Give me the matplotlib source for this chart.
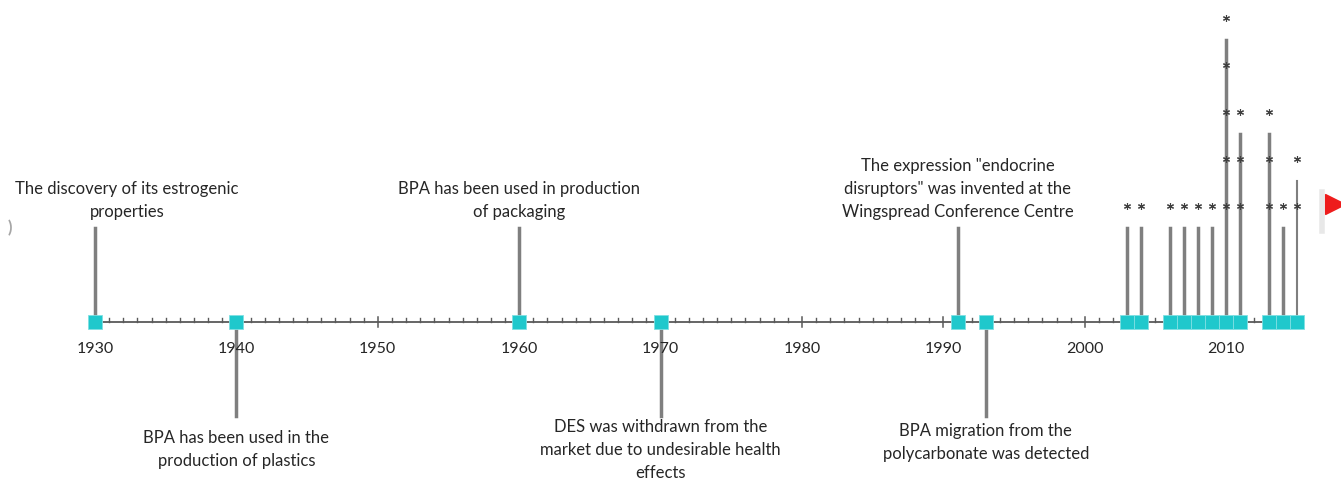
import numpy as np
import matplotlib.pyplot as plt

# milestones with text labels
event_years = [1930, 1940, 1960, 1970, 1991, 1993]
event_side = [1, -1, 1, -1, 1, -1]
event_labels = [
    'The discovery of its estrogenic\nproperties',
    'BPA has been used in the\nproduction of plastics',
    'BPA has been used in production\nof packaging',
    'DES was withdrawn from the\nmarket due to undesirable health\neffects',
    'The expression "endocrine\ndisruptors" was invented at the\nWingspread Conference Centre',
    'BPA migration from the\npolycarbonate was detected',
]
label_x = [1932.25, 1940, 1960, 1970, 1991, 1993]
label_gap = [9, 13, 9, 2, 9, 6]   # px between stem end and label

# years with publications (one asterisk each)
pub_years = [2003, 2004, 2006, 2007, 2008, 2009, 2010, 2011, 2013, 2014, 2015]
pub_counts = [1, 1, 1, 1, 1, 1, 5, 3, 3, 1, 2]

tick_years = list(range(1930, 2011, 10))

teal = '#1fc8cc'
stem_c = '#7f7f7f'
txt_c = '#262626'

plt.rcParams['font.family'] = ['Lato', 'DejaVu Sans']

fig = plt.figure(figsize=(13.41, 4.81), dpi=100)
ax = fig.add_axes([0, 0, 1, 1])
ax.set_xlim(1923.28, 2018.12)
ax.set_ylim(-3.36, 6.87)
ax.axis('off')

# px per data unit
px_y = 481 / (6.87 + 3.36)

# main axis line and ticks
ax.plot([1930, 2015], [0, 0], color='#595959', lw=1.3, zorder=1)
for yr in range(1931, 2016):
    if yr % 10 == 0:
        ax.plot([yr, yr], [-5 / px_y, 5 / px_y], color='#595959', lw=1.1, zorder=1)
    else:
        ax.plot([yr, yr], [0, 4 / px_y], color='#595959', lw=1.0, zorder=1)
for yr in tick_years:
    ax.text(yr, -26 / px_y, str(yr), ha='center', va='center', fontsize=11.5, color=txt_c)

# event stems and labels
for yr, s, lab, lx, g in zip(event_years, event_side, event_labels, label_x, label_gap):
    ax.plot([yr, yr], [0, 2 * s], color=stem_c, lw=2.5, zorder=2)
    if s > 0:
        ax.text(lx, 2 + g / px_y, lab, ha='center', va='bottom', fontsize=12,
                color=txt_c, linespacing=1.55)
    else:
        ax.text(lx, -2 - g / px_y, lab, ha='center', va='top', fontsize=12,
                color=txt_c, linespacing=1.55)

# publication stems and asterisks
for yr, n in zip(pub_years, pub_counts):
    w = 1.5 if yr == 2015 else 2.5
    ax.plot([yr, yr], [0, n + 1], color=stem_c, lw=w, zorder=2)
    for k in range(1, n + 1):
        ax.plot(yr, k + 1 + 22 / px_y, marker=(6, 2, 0), ms=5, mew=0.8,
                color='#404040', zorder=4)

# square markers on the axis
ax.plot(event_years + pub_years, [0] * (len(event_years) + len(pub_years)),
        ls='none', marker='s', ms=9.5, color=teal, mec='#7fe0e3', mew=0.6, zorder=5)

# scroll arrows at the edges
ax.plot(0.9955, 1 - 205 / 481, marker='>', ms=15, color='#ee1c1c',
        transform=ax.transAxes, clip_on=False)
ax.plot([0.9858, 0.9858], [1 - 193 / 481, 1 - 232 / 481], color='#e8e8e8',
        lw=4, transform=ax.transAxes)
ax.text(0.007, 1 - 228 / 481, ')', ha='center', va='center', fontsize=12,
        color='#a6a6a6', fontweight='bold', transform=ax.transAxes)

fig.savefig('out.png', dpi=100)
